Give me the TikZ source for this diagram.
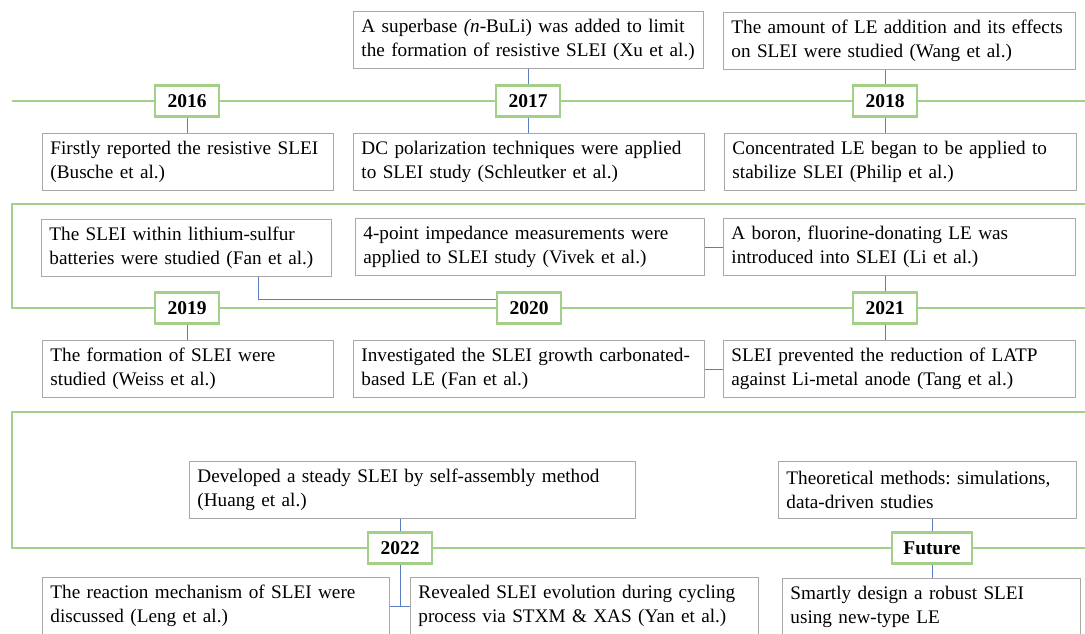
\documentclass[tikz,border=0pt]{standalone}
\usepackage{fontspec}
\setmainfont{Liberation Serif}
\frenchspacing
\definecolor{tlgreen}{HTML}{A3CF88}
\definecolor{cblue}{HTML}{5A7DC4}
\definecolor{bgray}{HTML}{A8A8A8}
\begin{document}
\begin{tikzpicture}[x=1pt,y=-1pt,
  evbox/.style={anchor=north west, draw=bgray, line width=0.9pt, fill=white,
    text width=#1, inner xsep=8pt, inner ysep=0pt, minimum height=57pt,
    align=left, font=\fontsize{19.2}{24}\selectfont},
  yearbox/.style={draw=tlgreen, line width=2.6pt, fill=white, minimum width=64pt,
    minimum height=31pt, inner sep=0pt, font=\fontsize{19.5}{22}\selectfont\bfseries},
  tline/.style={draw=tlgreen, line width=2.6pt},
  conn/.style={draw=cblue, line width=0.8pt}]
\useasboundingbox (0,0) rectangle (1085,633);

% coordinates for the free ends of the timeline
\coordinate (r1s) at (12,101);
\coordinate (r1e) at (1085,101);
\coordinate (r2a) at (1085,204);
\coordinate (r2b) at (12,204);
\coordinate (r2c) at (12,308);
\coordinate (r2e) at (1085,308);
\coordinate (r3a) at (1085,412);
\coordinate (r3b) at (12,412);
\coordinate (r3c) at (12,548);
\coordinate (r3e) at (1085,548);

% year boxes
\node[yearbox] (y2016) at (187,101) {2016};
\node[yearbox] (y2017) at (528,101) {2017};
\node[yearbox] (y2018) at (885,101) {2018};
\node[yearbox] (y2019) at (187,308) {2019};
\node[yearbox] (y2020) at (529,308) {2020};
\node[yearbox] (y2021) at (885,308) {2021};
\node[yearbox] (y2022) at (400,548) {2022};
\node[yearbox, minimum width=80pt] (future) at (932,548) {Future};

% timeline
\draw[tline] (r1s) -- (y2016.west);
\draw[tline] (y2016.east) -- (y2017.west);
\draw[tline] (y2017.east) -- (y2018.west);
\draw[tline] (y2018.east) -- (r1e);
\draw[tline] (r2a) -- (r2b) -- (r2c) -- (y2019.west);
\draw[tline] (y2019.east) -- (y2020.west);
\draw[tline] (y2020.east) -- (y2021.west);
\draw[tline] (y2021.east) -- (r2e);
\draw[tline] (r3a) -- (r3b) -- (r3c) -- (y2022.west);
\draw[tline] (y2022.east) -- (future.west);
\draw[tline] (future.east) -- (r3e);

% event boxes row 1
\node[evbox=334pt] (xu) at (353,11) {A superbase \textit{(n}-BuLi) was added to limit\\the formation of resistive SLEI (Xu et al.)};
\node[evbox=336pt] (wang) at (723,12) {The amount of LE addition and its effects\\on SLEI were studied (Wang et al.)};
\node[evbox=275pt] (busche) at (42,133) {Firstly reported the resistive SLEI\\(Busche et al.)};
\node[evbox=335pt] (schl) at (353,133) {DC polarization techniques were applied\\to SLEI study (Schleutker et al.)};
\node[evbox=336pt] (philip) at (724,133) {Concentrated LE began to be applied to\\stabilize SLEI (Philip et al.)};

% row 2
\node[evbox=274pt] (fanls) at (41,219) {The SLEI within lithium-sulfur\\batteries were studied (Fan et al.)};
\node[evbox=333pt] (vivek) at (355,218) {4-point impedance measurements were\\applied to SLEI study (Vivek et al.)};
\node[evbox=336pt] (boron) at (723,218) {A boron, fluorine-donating LE was\\introduced into SLEI (Li et al.)};
\node[evbox=275pt] (weiss) at (42,340) {The formation of SLEI were\\studied (Weiss et al.)};
\node[evbox=335pt] (fancarb) at (353,340) {Investigated the SLEI growth carbonated-\\based LE (Fan et al.)};
\node[evbox=336pt] (tang) at (723,340) {SLEI prevented the reduction of LATP\\against Li-metal anode (Tang et al.)};

% row 3
\node[evbox=430pt] (huang) at (189,461) {Developed a steady SLEI by self-assembly method\\(Huang et al.)};
\node[evbox=282pt] (theo) at (778,461) {Theoretical methods: simulations,\\data-driven studies};
\node[evbox=331pt] (leng) at (42,577) {The reaction mechanism of SLEI were\\discussed (Leng et al.)};
\node[evbox=332pt] (yan) at (410,577) {Revealed SLEI evolution during cycling\\process via STXM \& XAS (Yan et al.)};
\node[evbox=282pt] (smart) at (782,578) {Smartly design a robust SLEI\\using new-type LE};

% connectors
\draw[conn] (y2016.south) -- (y2016.south |- busche.north);
\draw[conn] (y2017.north) -- (y2017.north |- xu.south);
\draw[conn] (y2017.south) -- (y2017.south |- schl.north);
\draw[conn] (y2018.north) -- (y2018.north |- wang.south);
\draw[conn] (y2018.south) -- (y2018.south |- philip.north);
\draw[conn] ([xshift=217pt]fanls.south west) |- ([yshift=9pt]y2020.west);
\draw[conn] (y2019.south) -- (y2019.south |- weiss.north);
\draw[conn] (vivek.east) -- (boron.west);
\draw[conn] (fancarb.east) -- (tang.west);
\draw[conn] (y2021.north) -- (y2021.north |- boron.south);
\draw[conn] (y2021.south) -- (y2021.south |- tang.north);
\draw[conn] (y2022.north) -- (y2022.north |- huang.south);
\draw[conn] (y2022.south) -- (y2022.south |- leng.east);
\draw[conn] (leng.east) -- (yan.west);
\draw[conn] (future.north) -- (future.north |- theo.south);
\draw[conn] (future.south) -- (future.south |- smart.north);
\end{tikzpicture}
\end{document}
